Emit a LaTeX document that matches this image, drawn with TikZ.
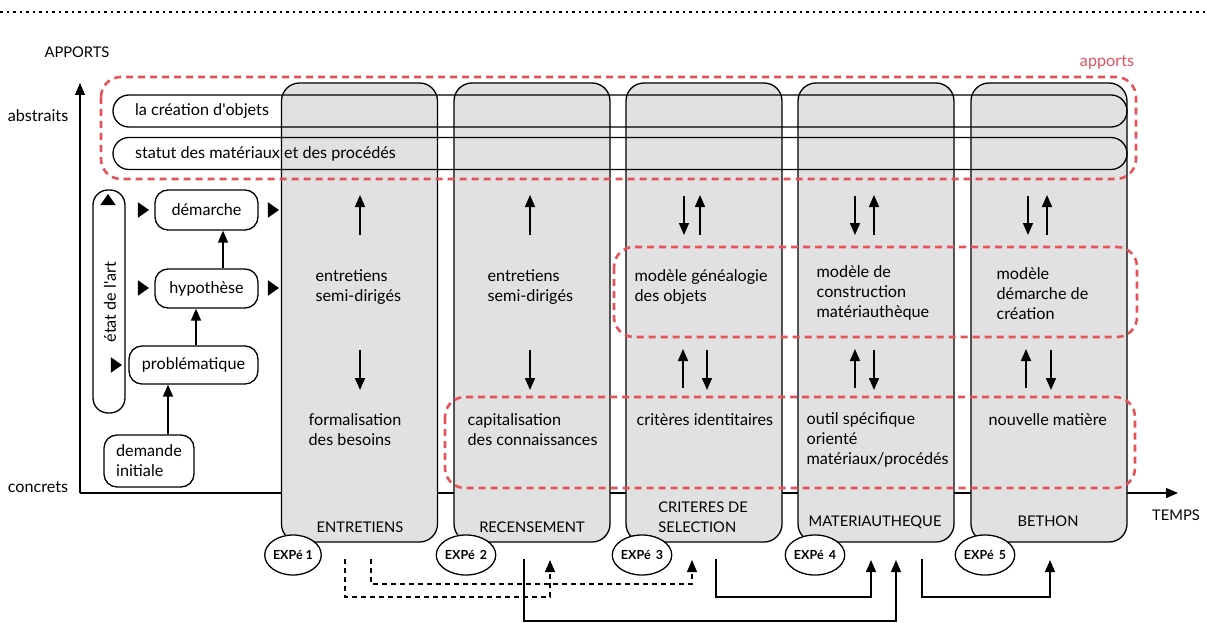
\documentclass[tikz,border=0pt]{standalone}
\usepackage{fontspec}
\setmainfont{Lato}
\usetikzlibrary{arrows.meta, shapes.geometric, positioning}
\definecolor{rouge}{RGB}{228,82,92}
\definecolor{gris}{RGB}{225,225,225}

\begin{document}
\begin{tikzpicture}[x=1pt, y=-1pt, line width=1.3pt,
    >={Triangle[length=12pt,width=10pt]},
    font=\fontsize{16.2}{20}\selectfont,
    colonne/.style={draw, fill=gris, rounded corners=18pt, minimum width=156pt, minimum height=459pt, inner sep=0pt},
    bande/.style={draw, rounded corners=16pt, minimum width=1014pt, minimum height=32pt, inner sep=0pt},
    cadre/.style={draw=rouge, dash pattern=on 7pt off 5pt, line width=2.6pt, rounded corners=20pt},
    boite/.style={draw, rounded corners=13pt, inner sep=0pt},
    texte/.style={align=left, anchor=west, inner sep=0pt},
    titre/.style={align=left, inner sep=0pt, font=\fontsize{14.7}{20}\selectfont},
    expe/.style={draw, fill=white, ellipse, minimum width=54pt, minimum height=40pt, inner sep=0pt, font=\fontsize{12.5}{13}\selectfont\bfseries},
    tri/.style={isosceles triangle, isosceles triangle apex angle=70, fill, draw=none, inner sep=0pt, minimum size=11pt},
    fleche/.style={->, line width=1.6pt},
    lien/.style={->, line width=1.2pt},
    pointille/.style={lien, dash pattern=on 5pt off 4pt}]

    \useasboundingbox (0,0) rectangle (1207,623);

    % ligne pointillée du haut
    \draw[line width=2.5pt, dash pattern=on 2.5pt off 4pt] (0,12) -- (1207,12);

    % axes
    \coordinate (O) at (80,493);
    \coordinate (haut) at (80,83);
    \coordinate (droite) at (1178,493);
    \draw[->] (O) -- (haut);
    \draw[->] (O) -- (droite);
    \node[titre] (apports) at (77,52) {APPORTS};
    \node (abstraits) at (38,116) {abstraits};
    \node (concrets) at (38,487) {concrets};
    \node[titre] (temps) at (1176,515) {TEMPS};

    % colonnes des expériences
    \node[colonne] (c1) at (359.5,312.5) {};
    \node[colonne] (c2) at (532,312.5) {};
    \node[colonne] (c3) at (704,312.5) {};
    \node[colonne] (c4) at (876,312.5) {};
    \node[colonne] (c5) at (1049,312.5) {};

    % bandes horizontales
    \node[bande] (b1) at (620,111) {};
    \node[bande] (b2) at (620,153.5) {};
    \node[texte] (t1) at ([xshift=22pt]b1.west) {la création d\textquotesingle objets};
    \node[texte] (t2) at ([xshift=22pt]b2.west) {statut des matériaux et des procédés};

    % cadres rouges
    \draw[cadre] (101,77) rectangle (1136,179);
    \draw[cadre] (614,247) rectangle (1137,337);
    \draw[cadre] (445,397) rectangle (1135,488);
    \node[text=rouge] (rouge) at (1107,62) {apports};

    % démarche de recherche
    \node[boite, rounded corners=15pt, minimum width=32pt, minimum height=223pt] (etat) at (109,301.5) {};
    \node[rotate=90] (etatt) at (110,302) {état de l\textquotesingle art};
    \node[boite, minimum width=103pt, minimum height=40pt] (demarche) at (206.5,210) {démarche};
    \node[boite, minimum width=103pt, minimum height=39pt] (hypo) at (206.5,288.5) {hypothèse};
    \node[boite, minimum width=129pt, minimum height=38pt] (prob) at (193.5,365) {problématique};
    \node[boite, minimum width=90pt, minimum height=52pt, align=left] (dem) at (149,461) {demande\\initiale};
    \draw[fleche] ([xshift=19pt]dem.north) -- ([xshift=19pt]dem.north |- prob.south);
    \draw[fleche] ([xshift=2.5pt]prob.north) -- ([xshift=2.5pt]prob.north |- hypo.south);
    \draw[fleche] ([xshift=16.5pt]hypo.north) -- ([xshift=16.5pt]hypo.north |- demarche.south);
    \node[tri, shape border rotate=90] (r0) at (108,201) {};
    \node[tri] (r1) at (142,210) {};
    \node[tri] (r2) at (142,288) {};
    \node[tri] (r3) at (115,365) {};
    \node[tri] (r4) at (272,210) {};
    \node[tri] (r5) at (272,288) {};

    % textes des colonnes
    \node[texte] (x1) at (315,287) {entretiens\\semi-dirigés};
    \node[texte] (y1) at (308,430) {formalisation\\des besoins};
    \node[texte] (x2) at (487,287) {entretiens\\semi-dirigés};
    \node[texte] (y2) at (467,430) {capitalisation\\des connaissances};
    \node[texte] (x3) at (634,287) {modèle généalogie\\des objets};
    \node[texte] (y3) at (636,420) {critères identitaires};
    \node[texte] (x4) at (816,293) {modèle de\\construction\\matériauthèque};
    \node[texte] (y4) at (806,440) {outil spécifique\\orienté\\matériaux/procédés};
    \node[texte] (x5) at (996,294) {modèle\\démarche de\\création};
    \node[texte] (y5) at (988,420) {nouvelle matière};

    % titres des colonnes
    \node[titre] (n1) at (360,527) {ENTRETIENS};
    \node[titre] (n2) at (532,527) {RECENSEMENT};
    \node[titre] (n3) at (703,517) {CRITERES DE\\SELECTION};
    \node[titre] (n4) at (875,522) {MATERIAUTHEQUE};
    \node[titre] (n5) at (1048,521) {BETHON};

    % flèches vers le haut et vers le bas
    \foreach \x [count=\i] in {360,530,700,874,1047} {
        \coordinate (m\i) at (\x,235);
        \draw[fleche] (m\i) -- ++(0,-40);
    }
    \foreach \x [count=\i] in {360,530,707,874,1051} {
        \coordinate (d\i) at (\x,350);
        \draw[fleche] (d\i) -- ++(0,40);
    }
    \foreach \x [count=\i] in {684,855,1028} {
        \coordinate (h\i) at (\x,196);
        \draw[fleche] (h\i) -- ++(0,39);
    }
    \foreach \x [count=\i] in {683,855,1026} {
        \coordinate (b\i) at (\x,388);
        \draw[fleche] (b\i) -- ++(0,-39);
    }

    % expériences
    \node[expe] (e1) at (293,555) {EXPé 1};
    \node[expe] (e2) at (466,555) {EXPé\, 2};
    \node[expe] (e3) at (642,555) {EXPé\, 3};
    \node[expe] (e4) at (815,555) {EXPé\, 4};
    \node[expe] (e5) at (985,555) {EXPé\, 5};

    % liens entre expériences
    \coordinate (s1) at (345,559);
    \coordinate (a1) at (550,560);
    \coordinate (s2) at (371,559);
    \coordinate (a2) at (692,560);
    \coordinate (s3) at (524,559);
    \coordinate (a3) at (896,560);
    \coordinate (s4) at (716,559);
    \coordinate (a4) at (871,560);
    \coordinate (s5) at (922,559);
    \coordinate (a5) at (1050,560);
    \draw[pointille] (s1) -- ++(0,38) -| (a1);
    \draw[pointille] (s2) -- ++(0,25) -| (a2);
    \draw[lien] (s3) -- ++(0,62) -| (a3);
    \draw[lien] (s4) -- ++(0,38) -| (a4);
    \draw[lien] (s5) -- ++(0,38) -| (a5);
\end{tikzpicture}
\end{document}
